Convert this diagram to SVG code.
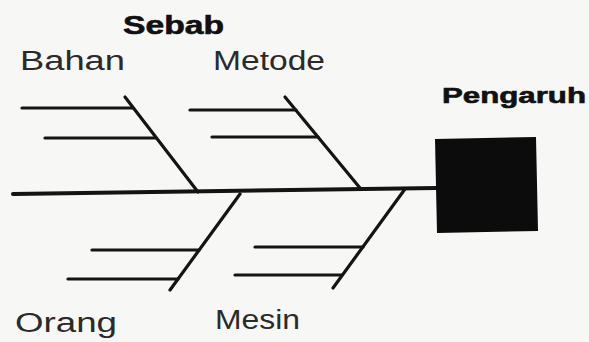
<svg xmlns="http://www.w3.org/2000/svg" width="589" height="342" viewBox="0 0 589 342">
  <style>
    .bone { stroke: #141414; stroke-width: 3.2; stroke-linecap: round; fill: none; }
    .spine { stroke: #141414; stroke-width: 4; stroke-linecap: round; fill: none; }
    .lbl { font-family: "Liberation Sans", Arial, sans-serif; fill: #2a2a2a; font-size: 27px; }
    .hd { font-family: "Liberation Sans", Arial, sans-serif; fill: #111; font-weight: bold; stroke: #111; stroke-width: 0.6; }
  </style>
  <rect width="589" height="342" fill="#f7f7f5"/>

  <!-- connectors: spine, main bones and sub-bones -->
  <g id="connectors">
    <line class="spine" x1="13" y1="194" x2="437" y2="188"/>
    <!-- Bahan -->
    <line class="bone" x1="125" y1="97" x2="198" y2="192"/>
    <line class="bone" x1="22" y1="108" x2="133" y2="108"/>
    <line class="bone" x1="45" y1="138" x2="156" y2="138"/>
    <!-- Metode -->
    <line class="bone" x1="285" y1="97" x2="360" y2="188"/>
    <line class="bone" x1="190" y1="110" x2="296" y2="110"/>
    <line class="bone" x1="212" y1="137" x2="318" y2="137"/>
    <!-- Orang -->
    <line class="bone" x1="240" y1="194" x2="170" y2="290"/>
    <line class="bone" x1="92" y1="250" x2="199" y2="250"/>
    <line class="bone" x1="68" y1="279" x2="178" y2="279"/>
    <!-- Mesin -->
    <line class="bone" x1="405" y1="189" x2="333" y2="288"/>
    <line class="bone" x1="255" y1="247" x2="363" y2="247"/>
    <line class="bone" x1="235" y1="275" x2="342" y2="275"/>
  </g>

  <g id="sebab">
    <text class="hd" x="123" y="34" font-size="25" textLength="101" lengthAdjust="spacingAndGlyphs">Sebab</text>
  </g>
  <g id="bahan">
    <text class="lbl" x="20" y="70" textLength="105" lengthAdjust="spacingAndGlyphs">Bahan</text>
  </g>
  <g id="metode">
    <text class="lbl" x="213" y="70" textLength="112" lengthAdjust="spacingAndGlyphs">Metode</text>
  </g>
  <g id="orang">
    <text class="lbl" x="15" y="332" textLength="102" lengthAdjust="spacingAndGlyphs">Orang</text>
  </g>
  <g id="mesin">
    <text class="lbl" x="215" y="329" textLength="85" lengthAdjust="spacingAndGlyphs">Mesin</text>
  </g>
  <g id="pengaruh">
    <text class="hd" x="442" y="103" font-size="22" textLength="144" lengthAdjust="spacingAndGlyphs">Pengaruh</text>
    <polygon points="435,139 536,137 538,231 437,233" fill="#0c0c0c"/>
  </g>
</svg>
